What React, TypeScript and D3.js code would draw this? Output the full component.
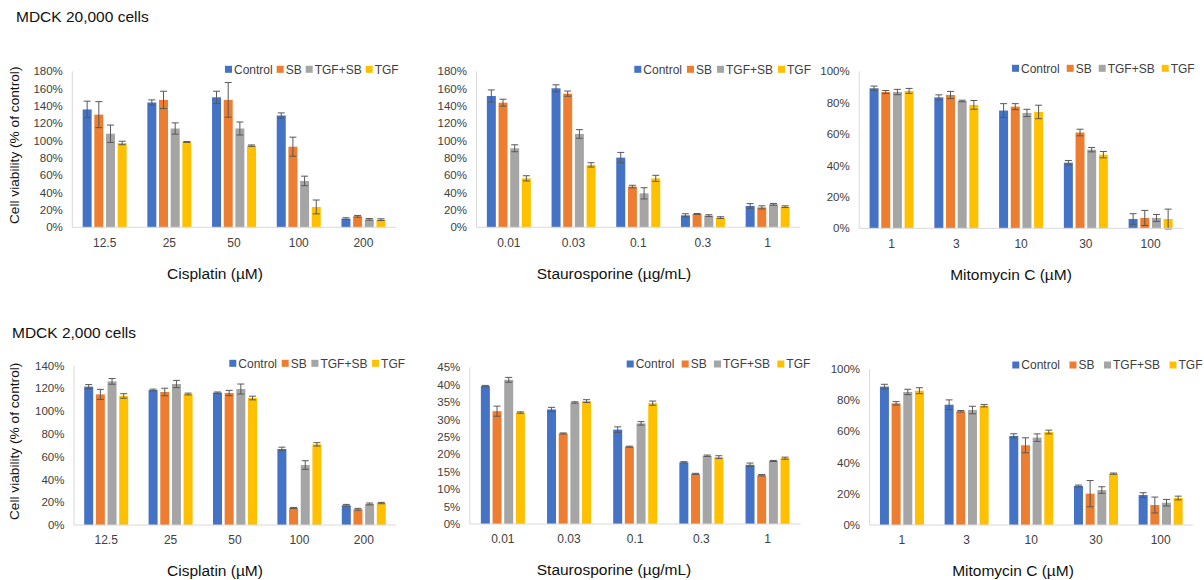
import React from 'react'
import * as d3 from 'd3'

// series names + colours
const seriesNames = ['Control', 'SB', 'TGF+SB', 'TGF']
const seriesColors = ['#4472C4', '#ED7D31', '#A5A5A5', '#FFC000']

// x categories
const cisplatinDoses = ['12.5', '25', '50', '100', '200']
const stauroDoses = ['0.01', '0.03', '0.1', '0.3', '1']
const mitoDoses = ['1', '3', '10', '30', '100']

// MDCK 20,000 cells -- one row per series (Control, SB, TGF+SB, TGF), values in %
const cis20kMean = [
  [136, 144, 150, 129, 10],
  [130, 147, 147, 93, 12.7],
  [108, 114, 114, 53.5, 9.2],
  [97.3, 98.5, 94.2, 23.5, 8.8]
]
const cis20kErr = [
  [9.5, 3, 7, 3, 1],
  [15, 10, 20, 11, 1],
  [10, 6.5, 7.5, 5.5, 1],
  [2, 0.5, 0.8, 8, 1]
]
const stauro20kMean = [
  [151.5, 160.4, 80.4, 13.8, 24.6],
  [143.8, 154.2, 47, 15.4, 23],
  [91.2, 107.7, 39.2, 13.5, 26.5],
  [56.5, 72, 56.5, 11.2, 23.8]
]
const stauro20kErr = [
  [7, 4, 6, 1.8, 2.7],
  [4, 3, 1.5, 0.5, 1.8],
  [4, 5, 6.5, 1, 1],
  [3, 2.5, 3.5, 1, 1]
]
const mito20kMean = [
  [89.2, 83.4, 75, 41.8, 5.9],
  [86.8, 84.9, 77.5, 61, 6.6],
  [86.8, 81.1, 73.5, 50.1, 6.6],
  [87.5, 78.6, 74.1, 46.9, 5.9]
]
const mito20kErr = [
  [1.4, 1.6, 4.4, 1.4, 3.4],
  [1, 2.3, 1.9, 2.1, 4.8],
  [1.7, 0.5, 2.3, 1.4, 2.2],
  [1.6, 2.8, 4.3, 2, 6.3]
]

// MDCK 2,000 cells
const cis2kMean = [
  [121.6, 118.6, 116.3, 66.8, 17.3],
  [114.8, 116.9, 116, 14.9, 13.8],
  [126.2, 123.9, 119.5, 52.7, 18.5],
  [113.4, 115.1, 111.6, 70.9, 19.3]
]
const cis2kErr = [
  [1.8, 0.8, 0.6, 1.6, 0.8],
  [4.4, 3.3, 2.3, 0.5, 0.8],
  [2.5, 3.2, 4.4, 3.8, 0.8],
  [2, 0.8, 1.6, 1.5, 0.6]
]
const stauro2kMean = [
  [39.6, 32.9, 27.1, 17.7, 17],
  [32.4, 26, 22.2, 14.4, 14],
  [41.4, 34.9, 28.9, 19.6, 18.1],
  [32, 35.3, 34.7, 19.2, 18.9]
]
const stauro2kErr = [
  [0.2, 0.6, 0.8, 0.2, 0.5],
  [1.45, 0.15, 0.15, 0.15, 0.2],
  [0.7, 0.2, 0.5, 0.2, 0.15],
  [0.2, 0.4, 0.6, 0.4, 0.3]
]
const mito2kMean = [
  [88.7, 77.1, 57.1, 25, 19.2],
  [78, 72.9, 51.1, 20.1, 12.8],
  [85.3, 73.7, 56, 22.4, 14.3],
  [86.1, 76.5, 59.6, 32.9, 17.3]
]
const mito2kErr = [
  [1.5, 3.1, 1.4, 0.6, 1.5],
  [1.1, 0.5, 4.8, 8.4, 5.1],
  [1.7, 2.4, 2.4, 2.1, 2.1],
  [1.9, 0.8, 1.2, 0.4, 1.2]
]

const font = '"Liberation Sans", Arial, sans-serif'

// rough Arial widths for the legend labels at 12px
const legendTextW = [38.7, 16, 47, 24]

const Panel = ({ cats, mean, err, yMax, yStep, x0, x1, yTop, yBot, legendX, legendY, legendGap, xTitle, xTitleX, yTitle }) => {
  const x = d3.scaleBand().domain(cats).range([x0, x1])
  const groupW = 44
  const xs = d3.scaleBand().domain(seriesNames).range([0, groupW]).paddingInner(0.23)
  const y = d3.scaleLinear().domain([0, yMax]).range([yBot, yTop])
  const ticks = d3.range(0, yMax + yStep / 2, yStep)
  const off = (x.bandwidth() - groupW) / 2

  let lx = legendX
  const legend = seriesNames.map((name, i) => {
    const g = (
      <g key={name}>
        <rect x={lx} y={legendY - 3.5} width={7} height={7} fill={seriesColors[i]} />
        <text x={lx + 9} y={legendY} dy="0.35em" fontSize={12} fill="#404040">{name}</text>
      </g>
    )
    lx += 9 + legendTextW[i] + legendGap
    return g
  })

  return (
    <g fontFamily={font}>
      {ticks.map((t) => (
        <text key={t} x={x0 - 9.5} y={y(t)} dy="0.35em" textAnchor="end" fontSize={11.5} fill="#404040">
          {d3.format('.0%')(t / 100)}
        </text>
      ))}
      <line x1={x0} x2={x0} y1={yTop} y2={yBot} stroke="#D9D9D9" />
      {mean.map((row, si) =>
        row.map((v, ci) => {
          const bx = x(cats[ci]) + off + xs(seriesNames[si])
          const cx = bx + xs.bandwidth() / 2
          const e = err[si][ci]
          return (
            <g key={si + '-' + ci}>
              <rect x={bx} y={y(v)} width={xs.bandwidth()} height={yBot - y(v)} fill={seriesColors[si]} />
              <line x1={cx} x2={cx} y1={y(v + e)} y2={y(v - e)} stroke="#595959" strokeWidth={1} />
              <line x1={cx - 3.5} x2={cx + 3.5} y1={y(v + e)} y2={y(v + e)} stroke="#595959" strokeWidth={1} />
              <line x1={cx - 3.5} x2={cx + 3.5} y1={y(v - e)} y2={y(v - e)} stroke="#595959" strokeWidth={1} />
            </g>
          )
        })
      )}
      <line x1={x0} x2={x1} y1={yBot} y2={yBot} stroke="#D9D9D9" />
      {cats.map((c) => (
        <text key={c} x={x(c) + x.bandwidth() / 2} y={yBot + 15} dy="0.35em" textAnchor="middle" fontSize={12} fill="#404040">
          {c}
        </text>
      ))}
      <text x={xTitleX} y={yBot + 46} dy="0.35em" textAnchor="middle" fontSize={15.5} fill="#111">
        {xTitle}
      </text>
      {yTitle && (
        <text transform={`translate(14,${(yTop + yBot) / 2 - 4}) rotate(-90)`} dy="0.35em" textAnchor="middle" fontSize={13.7} fill="#111">
          Cell viability (% of control)
        </text>
      )}
      {legend}
    </g>
  )
}

const App = () => {
  return (
    <svg width={1204} height={580} style={{ position: 'absolute', left: 0, top: 0, background: '#fff' }}>
      <text x={16} y={17} dy="0.35em" fontFamily={font} fontSize={15.5} fill="#111">MDCK 20,000 cells</text>
      <text x={12} y={333} dy="0.35em" fontFamily={font} fontSize={15.5} fill="#111">MDCK 2,000 cells</text>

      <Panel cats={cisplatinDoses} mean={cis20kMean} err={cis20kErr} yMax={180} yStep={20}
        x0={72.3} x1={395.8} yTop={71.3} yBot={227.3} legendX={225} legendY={69.3} legendGap={4}
        xTitle="Cisplatin (µM)" xTitleX={215} yTitle />
      <Panel cats={stauroDoses} mean={stauro20kMean} err={stauro20kErr} yMax={180} yStep={20}
        x0={476.5} x1={800} yTop={71.3} yBot={227.3} legendX={634.3} legendY={69.3} legendGap={5}
        xTitle="Staurosporine (µg/mL)" xTitleX={614} />
      <Panel cats={mitoDoses} mean={mito20kMean} err={mito20kErr} yMax={100} yStep={20}
        x0={859.2} x1={1183} yTop={71.3} yBot={228.3} legendX={1012} legendY={68.3} legendGap={7}
        xTitle="Mitomycin C (µM)" xTitleX={1011} />

      <Panel cats={cisplatinDoses} mean={cis2kMean} err={cis2kErr} yMax={140} yStep={20}
        x0={74} x1={396} yTop={365.7} yBot={525} legendX={229.3} legendY={363.3} legendGap={4.7}
        xTitle="Cisplatin (µM)" xTitleX={215} yTitle />
      <Panel cats={stauroDoses} mean={stauro2kMean} err={stauro2kErr} yMax={45} yStep={5}
        x0={469.8} x1={800.6} yTop={367.3} yBot={524} legendX={626.7} legendY={364} legendGap={7.3}
        xTitle="Staurosporine (µg/mL)" xTitleX={614} />
      <Panel cats={mitoDoses} mean={mito2kMean} err={mito2kErr} yMax={100} yStep={20}
        x0={869.6} x1={1193} yTop={369} yBot={525} legendX={1012.3} legendY={365} legendGap={9.5}
        xTitle="Mitomycin C (µM)" xTitleX={1013} />
    </svg>
  )
}

export default App
